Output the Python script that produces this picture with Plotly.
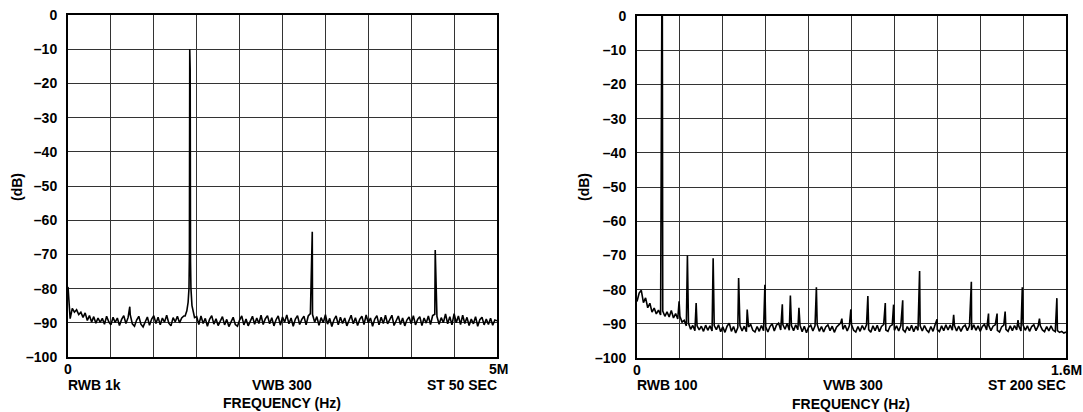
import numpy as np
import plotly.graph_objects as go

# ---------------- Left spectrum (0 - 5 MHz) ----------------
left_f_start, left_f_stop = 0.0, 5.0   # MHz
left_noise_db = [
    -79.5, -88.8, -85.8, -86.9, -86.2, -87.6, -86.9, -88.4, -87.1, -89.3,
    -87.9, -89.8, -88.2, -90.1, -88.6, -89.9, -88.7, -90.4, -88.1, -89.7,
    -90.6, -88.4, -89.9, -88.6, -90.8, -89.0, -87.9, -90.2, -88.5, -87.6,
    -90.3, -91.0, -89.2, -88.1, -90.4, -91.2, -89.6, -88.3, -90.7, -88.9,
    -87.9, -90.2, -88.4, -90.6, -88.6, -89.8, -87.8, -90.1, -90.9, -88.5,
    -89.7, -88.1, -90.0, -88.6, -88.0, -87.5, -85.0, -83.0, -84.0, -87.0,
    -88.2, -90.5, -88.0, -90.2, -88.7, -91.0, -89.0, -87.9, -90.4, -88.8,
    -90.8, -89.3, -88.2, -90.6, -89.0, -91.1, -89.7, -88.4, -90.5, -91.0,
    -89.2, -88.0, -90.6, -88.9, -90.9, -89.5, -88.1, -90.4, -88.6, -90.2,
    -87.8, -90.5, -88.8, -87.9, -90.3, -88.5, -90.9, -89.1, -88.0, -90.7,
    -88.3, -89.8, -87.7, -90.3, -88.6, -91.0, -88.9, -87.9, -90.5, -89.0,
    -88.1, -90.6, -88.0, -87.3, -87.6, -89.8, -88.2, -90.7, -88.5, -90.0,
    -87.6, -90.4, -88.7, -91.1, -89.1, -88.0, -90.6, -88.4, -90.2, -88.6,
    -90.9, -89.2, -87.8, -90.3, -88.5, -90.8, -89.0, -88.1, -90.5, -87.7,
    -90.0, -88.6, -91.0, -88.9, -87.9, -90.6, -88.4, -90.2, -87.8, -90.3,
    -88.9, -87.8, -90.8, -89.1, -88.0, -90.5, -88.6, -90.9, -89.2, -88.3,
    -90.3, -87.9, -90.6, -89.0, -88.2, -90.8, -88.6, -90.1, -88.0, -90.5,
    -87.9, -87.5, -88.1, -90.4, -88.5, -90.0, -87.4, -90.3, -88.2, -90.6,
    -87.3, -90.0, -88.0, -90.5, -87.8, -90.2, -88.4, -90.8, -88.9, -90.3,
    -88.2, -91.0, -89.1, -88.4, -90.6, -88.9, -90.5, -88.7, -90.7, -89.2,
    -89.4,
]
# main tone with its skirt, then harmonics / spurs
left_main_f  = [1.365, 1.385, 1.400, 1.410, 1.415, 1.419, 1.421, 1.424, 1.428, 1.433, 1.445, 1.460, 1.475]
left_main_db = [-88.0, -86.5, -84.0, -80.0, -70.0, -10.0, -11.5, -16.0, -72.0, -80.0, -85.0, -87.0, -88.5]
left_spur_f  = [0.72, 2.847, 4.28]
left_spur_db = [-85.3, -63.4, -68.7]

# ---------------- Right spectrum (0 - 1.6 MHz) ----------------
right_f_start, right_f_stop = 0.0, 1.6   # MHz
right_noise_db = [
    -83.5, -81.0, -80.2, -83.8, -82.4, -85.3, -84.0, -86.6, -85.4, -87.1,
    -86.0, -87.4, -86.3, -87.8, -86.5, -88.0, -86.1, -88.3, -87.0, -88.6,
    -87.8, -89.5, -89.0, -90.6, -89.8, -91.6, -90.5, -92.0, -90.6, -91.8,
    -90.7, -92.2, -90.4, -91.9, -90.6, -92.1, -90.5, -91.7, -90.3, -92.3,
    -90.9, -92.5, -90.7, -89.8, -92.2, -90.8, -92.7, -91.1, -90.5, -92.1,
    -90.7, -92.3, -90.9, -90.2, -91.9, -92.4, -90.8, -92.2, -90.5, -92.0,
    -90.9, -92.4, -90.8, -90.0, -92.1, -90.4, -89.8, -91.8, -90.2, -91.6,
    -89.9, -91.9, -90.5, -92.0, -90.3, -91.7, -90.4, -92.3, -90.7, -92.6,
    -91.0, -90.4, -92.1, -90.6, -90.2, -92.2, -90.8, -92.4, -90.9, -90.3,
    -92.0, -90.7, -92.5, -91.0, -90.2, -89.7, -91.6, -90.4, -92.1, -90.6,
    -90.2, -91.9, -92.4, -90.8, -92.2, -90.5, -91.8, -90.3, -91.7, -92.5,
    -90.6, -92.0, -90.4, -92.3, -90.8, -90.2, -91.8, -92.2, -90.7, -90.3,
    -91.9, -90.6, -92.1, -90.5, -91.7, -92.4, -90.8, -92.0, -90.4, -92.3,
    -90.7, -91.9, -90.6, -92.1, -90.5, -91.8, -92.5, -90.8, -92.2, -90.2,
    -91.7, -92.3, -90.6, -92.0, -90.3, -91.8, -90.4, -91.9, -90.5, -92.1,
    -90.7, -92.2, -90.9, -90.4, -92.0, -90.6, -91.8, -90.3, -91.9, -90.6,
    -92.2, -90.8, -90.2, -91.8, -90.5, -92.0, -90.7, -90.3, -91.9, -92.4,
    -90.9, -90.4, -91.6, -92.2, -90.6, -92.0, -90.5, -91.8, -90.7, -92.1,
    -90.4, -91.9, -90.6, -92.2, -90.8, -90.3, -92.0, -90.7, -90.5, -91.8,
    -92.3, -90.8, -92.1, -90.6, -91.9, -92.3, -92.0, -92.5, -92.2, -92.7,
    -92.4,
]
right_spur_f = [0.0925, 0.0945, 0.157, 0.188, 0.2206, 0.284, 0.379, 0.411, 0.477, 0.542,
                0.572, 0.604, 0.669, 0.764, 0.7975, 0.861, 0.926, 0.957, 0.991, 1.054,
                1.119, 1.181, 1.247, 1.311, 1.343, 1.373, 1.421, 1.437, 1.501, 1.566]
right_spur_db = [0.0, 0.0, -83.4, -70.0, -83.9, -70.8, -76.6, -85.8, -78.6, -84.3,
                 -81.7, -85.3, -79.3, -88.5, -85.8, -81.9, -83.9, -84.4, -83.1, -74.6,
                 -88.7, -87.4, -77.7, -87.0, -87.0, -86.4, -88.9, -79.3, -88.5, -82.5]

y_ticks = [0, -10, -20, -30, -40, -50, -60, -70, -80, -90, -100]
y_tick_text = ["0" if v == 0 else "\u2013" + str(-v) for v in y_ticks]


def build_line(f_start, f_stop, noise_db, profile=None, spurs=None):
    """Merge the noise floor with a tone profile (replacing the floor under it)
    and single-point spurs, ordered by frequency."""
    nf = np.linspace(f_start, f_stop, len(noise_db))
    nd = np.array(noise_db, dtype=float)
    keep = np.ones(len(nf), dtype=bool)
    xs, ys = [nf], [nd]
    if profile is not None:
        pf = np.array(profile[0], dtype=float)
        keep &= ~((nf >= pf.min()) & (nf <= pf.max()))
        xs.append(pf)
        ys.append(np.array(profile[1], dtype=float))
    xs[0], ys[0] = nf[keep], nd[keep]
    if spurs is not None:
        xs.append(np.array(spurs[0], dtype=float))
        ys.append(np.array(spurs[1], dtype=float))
    x = np.concatenate(xs)
    y = np.concatenate(ys)
    order = np.argsort(x, kind="stable")
    return x[order], y[order]


lx, ly = build_line(left_f_start, left_f_stop, left_noise_db,
                    profile=(left_main_f, left_main_db), spurs=(left_spur_f, left_spur_db))
rx, ry = build_line(right_f_start, right_f_stop, right_noise_db,
                    spurs=(right_spur_f, right_spur_db))

W, H = 1083, 412
FONT = "Liberation Sans, Arial, Helvetica, sans-serif"
FS = 14


def px(x):
    return x / W


def py(y):
    return (H - y) / H


fig = go.Figure()
fig.add_trace(go.Scatter(x=lx, y=ly, mode="lines", line=dict(color="black", width=1.6),
                         xaxis="x", yaxis="y", showlegend=False, hoverinfo="skip"))
fig.add_trace(go.Scatter(x=rx, y=ry, mode="lines", line=dict(color="black", width=1.6),
                         xaxis="x2", yaxis="y2", showlegend=False, hoverinfo="skip"))

axis_common = dict(showgrid=True, gridcolor="#333333", gridwidth=1, zeroline=False,
                   showline=True, linecolor="black", linewidth=2, mirror=True, ticks="")
yaxis_common = dict(axis_common, range=[-100, 0], tickmode="array", tickvals=y_ticks,
                    ticktext=y_tick_text, ticklabelstandoff=6,
                    tickfont=dict(family=FONT, size=FS, color="black", weight="bold"))

fig.update_layout(
    width=W, height=H, margin=dict(l=0, r=0, t=0, b=0, autoexpand=False),
    paper_bgcolor="white", plot_bgcolor="white",
    xaxis=dict(axis_common, domain=[px(68), px(497)], range=[0, 5], tick0=0, dtick=0.5,
               showticklabels=False, anchor="y"),
    yaxis=dict(yaxis_common, domain=[py(357), py(15)], anchor="x"),
    xaxis2=dict(axis_common, domain=[px(637), px(1066)], range=[0, 1.6], tick0=0, dtick=0.16,
                showticklabels=False, anchor="y2"),
    yaxis2=dict(yaxis_common, domain=[py(358), py(16)], anchor="x2"),
)

bold = dict(family=FONT, size=FS, color="black", weight="bold")


def ann(text, x, y, xanchor="center", angle=0):
    fig.add_annotation(text=text, x=px(x), y=py(y), xref="paper", yref="paper",
                       xanchor=xanchor, yanchor="middle", showarrow=False,
                       textangle=angle, font=bold)


# left chart texts
ann("(dB)", 17, 187, angle=-90)
ann("0", 68, 369)
ann("5M", 498, 369)
ann("RWB 1k", 66, 385, xanchor="left")
ann("VWB 300", 282, 385)
ann("ST 50 SEC", 499, 385, xanchor="right")
ann("FREQUENCY (Hz)", 282, 403)

# right chart texts
ann("(dB)", 584, 187, angle=-90)
ann("0", 637, 370)
ann("1.6M", 1066, 370)
ann("RWB 100", 635, 385, xanchor="left")
ann("VWB 300", 853, 385)
ann("ST 200 SEC", 1068, 385, xanchor="right")
ann("FREQUENCY (Hz)", 851, 404)

fig.write_html("out.html", config={"displayModeBar": False},
               post_script="document.body.style.margin='0';")
